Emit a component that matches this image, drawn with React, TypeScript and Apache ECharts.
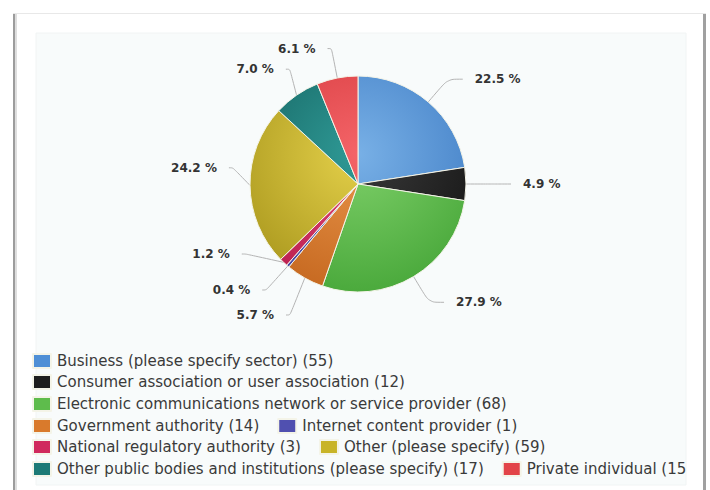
import React, { useEffect, useRef } from "react";
import * as echarts from "echarts";

const categories = [
  "Business (please specify sector)",
  "Consumer association or user association",
  "Electronic communications network or service provider",
  "Government authority",
  "Internet content provider",
  "National regulatory authority",
  "Other (please specify)",
  "Other public bodies and institutions (please specify)",
  "Private individual",
];
const counts = [55, 12, 68, 14, 1, 3, 59, 17, 15];

// legend rows (indices into categories)
const legendRows = [[0], [1], [2], [3, 4], [5, 6], [7, 8]];

// styles
const lightColors = ["#78b0e6", "#3a3a3a", "#7fd06a", "#e9954a", "#6a6ac8", "#e24a7a", "#e4d04a", "#2f9a96", "#f46468"];
const darkColors = ["#3f7cc4", "#141414", "#46a638", "#c4661e", "#44449e", "#b81c4c", "#a8961c", "#156260", "#d4383c"];
const iconColors = ["#4f8fd6", "#1e1e1e", "#5ebc4c", "#d97a2c", "#5050b0", "#d02a5e", "#c8b428", "#1d7a76", "#e24448"];

const CX = 358;
const CY = 184;
const R = 108;

export default function App() {
  const ref = useRef<HTMLDivElement>(null);
  useEffect(() => {
    if (!ref.current) return;
    const chart = echarts.init(ref.current, undefined, { renderer: "svg" });
    const total = counts.reduce((a, b) => a + b, 0);
    let acc = 0;
    const data = categories.map((name, i) => {
      const mid = (acc + counts[i] / 2) / total;
      acc += counts[i];
      const leftSide = mid > 0.5;
      const small = counts[i] / total < 0.02;
      return {
        name,
        value: counts[i],
        itemStyle: {
          color: {
            type: "radial",
            x: CX,
            y: CY - 30,
            r: R * 1.4,
            global: true,
            colorStops: [
              { offset: 0, color: lightColors[i] },
              { offset: 1, color: darkColors[i] },
            ],
          },
        },
        labelLine: { length2: leftSide ? 4 : 15 },
        label: small ? { lineHeight: 34 } : undefined,
      };
    });
    const rowCenters = [361, 382, 404, 426, 447, 469];
    const legends = legendRows.map((row, r) => ({
      orient: "horizontal",
      left: 32,
      top: rowCenters[r] - 8,
      padding: 0,
      itemWidth: 18,
      itemHeight: 14,
      itemGap: 18,
      icon: "rect",
      selectedMode: false,
      data: row.map((i) => ({ name: categories[i], itemStyle: { color: iconColors[i] } })),
      formatter: (name: string) => `${name} (${counts[categories.indexOf(name)]})`,
      textStyle: { fontFamily: "DejaVu Sans", fontSize: 15, color: "#3a3a3a", lineHeight: 16, padding: [0, 0, 0, 1] },
    }));
    chart.setOption({
      animation: false,
      backgroundColor: "#ffffff",
      graphic: {
        elements: [
          { type: "rect", z: -10, shape: { x: 13, y: 13, width: 693, height: 1 }, style: { fill: "#e8e8e8" } },
          { type: "rect", z: -10, shape: { x: 13, y: 14, width: 2, height: 476 }, style: { fill: "#9c9c9c" } },
          { type: "rect", z: -10, shape: { x: 15, y: 14, width: 2, height: 476 }, style: { fill: "#dedede" } },
          { type: "rect", z: -10, shape: { x: 703, y: 14, width: 3, height: 476 }, style: { fill: "#a0a0a0" } },
          { type: "rect", z: -9, shape: { x: 36, y: 33, width: 650, height: 452 }, style: { fill: "#f8fbfb", stroke: "#f1f4f4", lineWidth: 1 } },
          { type: "rect", z: 100, shape: { x: 687, y: 440, width: 16, height: 50 }, style: { fill: "#ffffff" } },
        ],
      },
      legend: legends,
      series: [
        {
          type: "pie",
          left: 0,
          top: 0,
          width: 710,
          height: 322,
          center: [CX, CY],
          radius: R,
          startAngle: 90,
          clockwise: true,
          percentPrecision: 4,
          avoidLabelOverlap: true,
          data,
          itemStyle: { borderColor: "#f4f4e8", borderWidth: 1 },
          emphasis: { disabled: true },
          label: {
            show: true,
            position: "outside",
            formatter: (p: any) => `${p.percent.toFixed(1)} %`,
            fontFamily: "DejaVu Sans",
            fontWeight: "bold",
            fontSize: 12,
            color: "#333333",
            distanceToLabelLine: 12,
          },
          labelLine: {
            show: true,
            length: 30,
            length2: 15,
            smooth: 0.3,
            lineStyle: { color: "#b4b4b4", width: 1 },
          },
        },
      ],
    });
    return () => chart.dispose();
  }, []);
  return <div ref={ref} style={{ position: "absolute", left: 0, top: 0, width: 710, height: 490 }} />;
}
